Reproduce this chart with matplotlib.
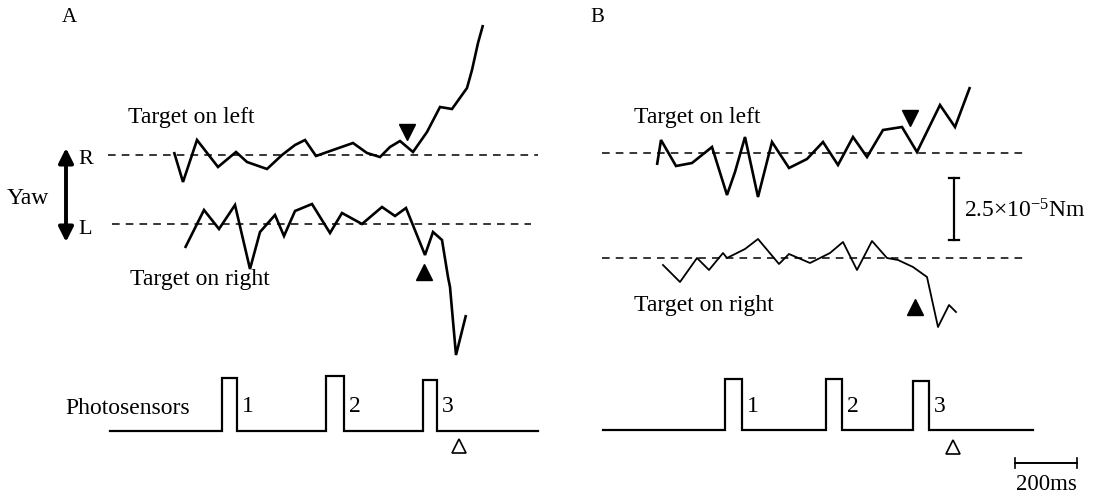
import matplotlib
matplotlib.use("Agg")
import matplotlib.pyplot as plt

plt.rcParams['font.family'] = ['Liberation Serif', 'DejaVu Serif']
plt.rcParams['mathtext.fontset'] = 'custom'
plt.rcParams['mathtext.rm'] = 'Liberation Serif'
plt.rcParams['mathtext.it'] = 'Liberation Serif'

# ---- yaw torque traces (sheet coordinates, y grows downward) ----
a_left_x = [174, 183, 197, 218, 236, 247, 267, 282, 295, 305, 316, 333, 353, 367,
            380, 390, 400, 413, 427, 440, 452, 467, 472, 478, 483]
a_left_y = [152, 182, 140, 167, 152, 162, 169, 155, 145, 140, 156, 150, 143, 153,
            157, 147, 141, 152, 132, 107, 109, 88, 70, 43, 25]

a_right_x = [185, 193, 204, 219, 235, 250, 260, 275, 284, 295, 312, 330, 342, 362,
             382, 395, 406, 425, 433, 442, 448, 450, 456, 466]
a_right_y = [248, 232, 210, 229, 205, 269, 232, 215, 236, 211, 204, 233, 213, 224,
             207, 216, 208, 255, 232, 240, 277, 287, 355, 315]

b_left_x = [657, 661, 676, 692, 712, 727, 735, 745, 758, 772, 789, 807, 823, 838,
            853, 867, 883, 902, 917, 940, 955, 970]
b_left_y = [165, 140, 166, 163, 147, 195, 172, 137, 197, 142, 168, 159, 142, 165,
            137, 157, 130, 127, 152, 105, 127, 87]

b_right_x = [663, 680, 697, 709, 723, 727, 745, 758, 779, 789, 810, 830, 843, 857,
             872, 887, 898, 913, 927, 938, 949, 956]
b_right_y = [265, 282, 258, 270, 253, 258, 249, 239, 264, 254, 263, 253, 242, 270,
             241, 258, 260, 267, 277, 327, 305, 312]

# zero-torque reference levels: (x start, x end, y)
a_refs = [(108, 538, 155), (112, 531, 224)]
b_refs = [(602, 1028, 153), (602, 1028, 258)]

# ---- photosensor pulses: (rise, fall, top) ----
a_pulses = [(222, 237, 378), (326, 344, 376), (423, 437, 380)]
b_pulses = [(725, 742, 379), (826, 842, 379), (913, 929, 381)]
a_base = (110, 538, 431)
b_base = (603, 1033, 430)
pulse_labels = ['1', '2', '3']

# response onset markers
a_onset_left = (407, 132)
a_onset_right = (424, 272)
b_onset_left = (910, 118)
b_onset_right = (915, 307)
a_stim = (459, 446)
b_stim = (953, 447)

fig = plt.figure(figsize=(11.04, 4.96), dpi=100)
ax = fig.add_axes([0, 0, 1, 1])
ax.set_xlim(0, 1104)
ax.set_ylim(496, 0)
ax.axis('off')

trace_kw = dict(color='black', lw=1.9, solid_joinstyle='miter', solid_capstyle='butt')
ax.plot(a_left_x, a_left_y, **trace_kw)
ax.plot(a_right_x, a_right_y, **trace_kw)
ax.plot(b_left_x, b_left_y, **trace_kw)
ax.plot(b_right_x, b_right_y, color='black', lw=1.3)

for x0, x1, y in a_refs + b_refs:
    ax.plot([x0, x1], [y, y], color='black', lw=1.1, dashes=(5, 4))


def pulse_train(base, pulses):
    x0, x1, yb = base
    xs, ys = [x0], [yb]
    for r, f, top in pulses:
        xs += [r, r, f, f]
        ys += [yb, top, top, yb]
    xs.append(x1)
    ys.append(yb)
    return xs, ys


for base, pulses in ((a_base, a_pulses), (b_base, b_pulses)):
    xs, ys = pulse_train(base, pulses)
    ax.plot(xs, ys, color='black', lw=1.6, solid_joinstyle='miter')
    for (r, f, top), lab in zip(pulses, pulse_labels):
        ax.text(f + 5, 407, lab, fontsize=17, ha='left', va='center')

# onset markers
for (x, y) in (a_onset_left, b_onset_left):
    ax.plot(x, y, marker='v', ms=11, color='black', mec='black')
for (x, y) in (a_onset_right, b_onset_right):
    ax.plot(x, y, marker='^', ms=11, color='black', mec='black')
for (x, y) in (a_stim, b_stim):
    ax.plot(x, y, marker='^', ms=10, mfc='white', mec='black', mew=1.2)

# panel letters and labels
ax.text(62, 18, 'A', fontsize=15, ha='left', va='center')
ax.text(590, 18, 'B', fontsize=15, ha='left', va='center')
ax.text(128, 117, 'Target on left', fontsize=17, ha='left', va='center')
ax.text(130, 280, 'Target on right', fontsize=17, ha='left', va='center')
ax.text(634, 117, 'Target on left', fontsize=17, ha='left', va='center')
ax.text(634, 305, 'Target on right', fontsize=17, ha='left', va='center')
ax.text(65, 408, 'Photosensors', fontsize=17, ha='left', va='center')

# yaw direction arrow
ax.annotate('', xy=(66, 148), xytext=(66, 242),
            arrowprops=dict(arrowstyle='<|-|>', color='black', lw=2.8,
                            mutation_scale=22, shrinkA=0, shrinkB=0))
ax.text(78, 160, 'R', fontsize=16, ha='left', va='center')
ax.text(78, 229, 'L', fontsize=16, ha='left', va='center')
ax.text(7, 198, 'Yaw', fontsize=17, ha='left', va='center')

# torque scale bar
ax.plot([954, 954], [178, 240], color='black', lw=1.6)
ax.plot([949, 959], [178, 178], color='black', lw=1.6)
ax.plot([949, 959], [240, 240], color='black', lw=1.6)
ax.text(964, 211, '2.5×10$^{-5}$Nm', fontsize=17, ha='left', va='center')

# time scale bar
ax.plot([1015, 1077], [463, 463], color='black', lw=1.4)
ax.plot([1015, 1015], [458, 468], color='black', lw=1.2)
ax.plot([1077, 1077], [458, 468], color='black', lw=1.2)
ax.text(1046, 485, '200ms', fontsize=16.5, ha='center', va='center')

fig.savefig('out.png', dpi=100)
